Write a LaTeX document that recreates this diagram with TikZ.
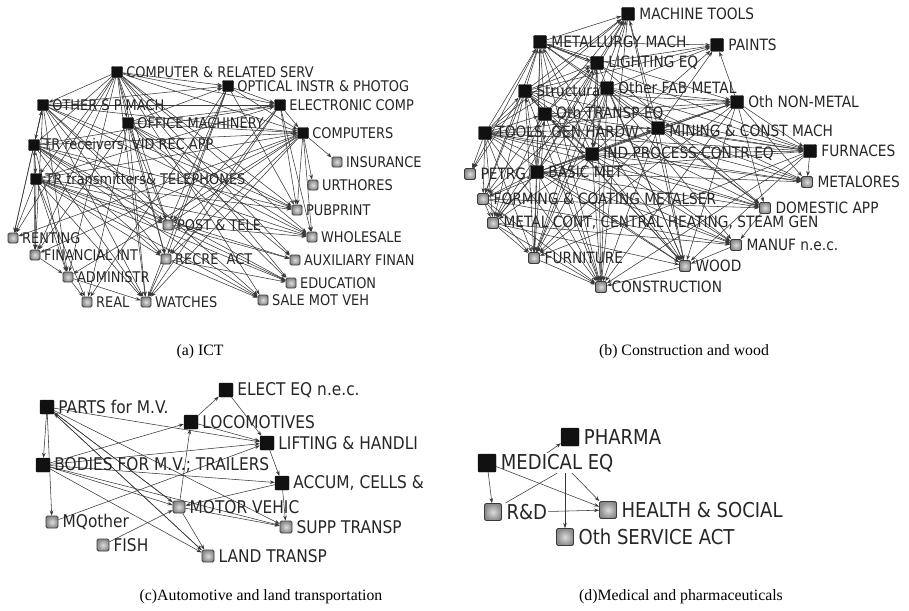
\documentclass[tikz,border=0pt]{standalone}
\usepackage{fontspec}
\setmainfont{Liberation Serif}
\newfontfamily\lblfont{DejaVu Sans}[FakeStretch=0.88]
\usepackage{tikz}
\usetikzlibrary{positioning, arrows.meta, backgrounds}

\definecolor{cEdge}    {HTML}{383838}
\definecolor{cSrc}     {HTML}{111111}
\definecolor{cSinkIn}  {HTML}{DCDCDC}
\definecolor{cSinkOut} {HTML}{8A8A8A}
\definecolor{cSinkLine}{HTML}{3A3A3A}

\tikzset{
  bnode/.style={rectangle, fill=cSrc, draw=cSrc, rounded corners=1pt,
    minimum size=\bsize, inner sep=0pt},
  gnode/.style={rectangle, inner color=cSinkIn, outer color=cSinkOut, draw=cSinkLine,
    line width=0.8pt, rounded corners=1.5pt, minimum size=\gsize, inner sep=0pt},
  lbl/.style={font=\lblfont\fontsize{\lblsize}{\lblsize}\selectfont, inner sep=1pt, text=black!85},
  edge/.style={draw=cEdge, line width=0.55pt, -{Stealth[length=5pt, width=3.6pt]}},
  plain/.style={draw=cEdge, line width=0.55pt},
  capt/.style={font=\fontsize{15.8pt}{17pt}\selectfont},
}

\begin{document}
\begin{tikzpicture}[x=1pt, y=-1pt]
\useasboundingbox (0,0) rectangle (909,610);

% (a) ICT
\begin{scope}[node distance=2.5pt]
  \def\bsize{11pt}\def\gsize{10pt}\def\lblsize{14.7pt}
  \node[bnode] (crs) at (117,72)  {}; \node[lbl, right=of crs] (crs-t) {COMPUTER \& RELATED SERV};
  \node[bnode] (opt) at (228,86)  {}; \node[lbl, right=of opt] (opt-t) {OPTICAL INSTR \& PHOTOG};
  \node[bnode] (osp) at (43,105)  {}; \node[lbl, right=of osp] (osp-t) {OTHER S P MACH};
  \node[bnode] (elc) at (280,105) {}; \node[lbl, right=of elc] (elc-t) {ELECTRONIC COMP};
  \node[bnode] (off) at (128,123) {}; \node[lbl, right=of off] (off-t) {OFFICE MACHINERY};
  \node[bnode] (cmp) at (303,133) {}; \node[lbl, right=of cmp] (cmp-t) {COMPUTERS};
  \node[bnode] (trr) at (34,145)  {}; \node[lbl, right=of trr] (trr-t) {TR receivers, VID REC APP};
  \node[bnode] (trt) at (36,179)  {}; \node[lbl, right=of trt] (trt-t) {TR transmitters\& TELEPHONES};
  \node[gnode] (ins) at (337,162) {}; \node[lbl, right=of ins] (ins-t) {INSURANCE};
  \node[gnode] (urt) at (313,185) {}; \node[lbl, right=of urt] (urt-t) {URTHORES};
  \node[gnode] (pub) at (297,210) {}; \node[lbl, right=of pub] (pub-t) {PUBPRINT};
  \node[gnode] (pos) at (168,225) {}; \node[lbl, right=of pos] (pos-t) {POST \& TELE};
  \node[gnode] (who) at (312,237) {}; \node[lbl, right=of who] (who-t) {WHOLESALE};
  \node[gnode] (ren) at (13,238)  {}; \node[lbl, right=of ren] (ren-t) {RENTING};
  \node[gnode] (fin) at (35,255)  {}; \node[lbl, right=of fin] (fin-t) {FINANCIAL INT};
  \node[gnode] (aux) at (295,260) {}; \node[lbl, right=of aux] (aux-t) {AUXILIARY FINAN};
  \node[gnode] (rec) at (166,259) {}; \node[lbl, right=of rec] (rec-t) {RECRE\ \ ACT};
  \node[gnode] (adm) at (68,277)  {}; \node[lbl, right=of adm] (adm-t) {ADMINISTR};
  \node[gnode] (edu) at (291,283) {}; \node[lbl, right=of edu] (edu-t) {EDUCATION};
  \node[gnode] (rea) at (87,302)  {}; \node[lbl, right=of rea] (rea-t) {REAL};
  \node[gnode] (wat) at (146,302) {}; \node[lbl, right=of wat] (wat-t) {WATCHES};
  \node[gnode] (sal) at (263,300) {}; \node[lbl, right=of sal] (sal-t) {SALE MOT VEH};
  \begin{scope}[on background layer]
    \foreach \src/\dst in {crs/opt, crs/elc, crs/cmp, crs/osp, crs/off, crs/trr, crs/trt,
        osp/opt, osp/elc, osp/cmp, osp/trr, off/opt, off/elc, off/cmp,
        trr/elc, trr/cmp, trr/osp, trr/trt, trt/cmp, trt/elc, trt/trr,
        opt/elc, opt/cmp, elc/cmp}
      \draw[edge] (\src) -- (\dst);
    \foreach \src in {crs, osp, off, trr, trt}
      \foreach \dst in {pos, rec, wat, pub}
        \draw[edge] (\src) -- (\dst);
    \foreach \src/\dst in {crs/who, crs/edu, crs/aux, crs/sal, crs/fin, crs/ren, crs/adm,
        osp/who, osp/fin, osp/ren, osp/sal, osp/adm,
        off/who, off/edu, off/aux, off/fin, off/rea,
        trr/who, trr/edu, trr/fin, trr/ren, trr/adm, trr/sal,
        trt/ren, trt/fin, trt/adm, trt/who, trt/edu, trt/aux, trt/rea, trt/sal,
        cmp/ins, cmp/urt, cmp/pub, cmp/who, cmp/pos, cmp/rec, cmp/wat, cmp/fin, cmp/ren, cmp/adm,
        elc/pub, elc/who, elc/pos, elc/rec, elc/wat,
        opt/pub, opt/pos, opt/wat, opt/rec, opt/rea,
        pos/aux, pos/edu, rec/sal, rec/wat, fin/adm, adm/rea, pos/who, rec/edu, adm/wat}
      \draw[edge] (\src) -- (\dst);
  \end{scope}
\end{scope}

% (b) Construction and wood
\begin{scope}[node distance=3.5pt]
  \def\bsize{13pt}\def\gsize{11pt}\def\lblsize{15.6pt}
  \node[bnode] (mct) at (628,14)  {}; \node[lbl, right=of mct] (mct-t) {MACHINE TOOLS};
  \node[bnode] (mtm) at (540,42)  {}; \node[lbl, right=of mtm] (mtm-t) {METALLURGY MACH};
  \node[bnode] (pnt) at (717,45)  {}; \node[lbl, right=of pnt] (pnt-t) {PAINTS};
  \node[bnode] (lgt) at (597,63)  {}; \node[lbl, right=of lgt] (lgt-t) {LIGHTING EQ};
  \node[bnode] (str) at (525,91)  {}; \node[lbl, right=of str] (str-t) {Structura};
  \node[bnode] (ofm) at (607,88)  {}; \node[lbl, right=of ofm] (ofm-t) {Other FAB METAL};
  \node[bnode] (onm) at (737,102) {}; \node[lbl, right=of onm] (onm-t) {Oth NON-METAL};
  \node[bnode] (otr) at (545,114) {}; \node[lbl, right=of otr] (otr-t) {Oth TRANSP EQ};
  \node[bnode] (min) at (658,128) {}; \node[lbl, right=of min, yshift=-3pt] (min-t) {MINING \& CONST MACH};
  \node[bnode] (tls) at (485,133) {}; \node[lbl, right=of tls] (tls-t) {TOOLS, GEN HARDW};
  \node[bnode] (ipc) at (592,154) {}; \node[lbl, right=of ipc] (ipc-t) {IND PROCESS CONTR EQ};
  \node[bnode] (fur) at (810,151) {}; \node[lbl, right=of fur] (fur-t) {FURNACES};
  \node[bnode] (bsm) at (537,172) {}; \node[lbl, right=of bsm] (bsm-t) {BASIC MET};
  \node[gnode] (ptr) at (470,174) {}; \node[lbl, right=of ptr] (ptr-t) {PETRG.};
  \node[gnode] (mor) at (807,182) {}; \node[lbl, right=of mor] (mor-t) {METALORES};
  \node[gnode] (frm) at (483,199) {}; \node[lbl, right=of frm] (frm-t) {FORMING \& COATING METALSER};
  \node[gnode] (dom) at (765,208) {}; \node[lbl, right=of dom] (dom-t) {DOMESTIC APP};
  \node[gnode] (mcn) at (493,223) {}; \node[lbl, right=of mcn] (mcn-t) {METAL CONT, CENTRAL HEATING, STEAM GEN};
  \node[gnode] (mnf) at (736,245) {}; \node[lbl, right=of mnf] (mnf-t) {MANUF n.e.c.};
  \node[gnode] (fnt) at (534,258) {}; \node[lbl, right=of fnt] (fnt-t) {FURNITURE};
  \node[gnode] (wod) at (685,266) {}; \node[lbl, right=of wod] (wod-t) {WOOD};
  \node[gnode] (con) at (601,287) {}; \node[lbl, right=of con] (con-t) {CONSTRUCTION};
  \begin{scope}[on background layer]
    \foreach \src/\dst in {mtm/mct, lgt/mct, str/mct, otr/mct, tls/mct, min/mct, ipc/mct, bsm/mct,
        str/mtm, otr/mtm, tls/mtm, bsm/mtm, ipc/mtm, lgt/mtm, ofm/mtm,
        str/lgt, otr/lgt, tls/lgt, bsm/lgt, ipc/lgt, mtm/lgt,
        lgt/pnt, ofm/pnt, min/pnt, ipc/pnt, mtm/pnt, str/pnt, onm/pnt,
        tls/str, otr/str, bsm/str, tls/otr, bsm/otr, ipc/otr,
        ipc/min, bsm/min, tls/min, onm/min,
        str/onm, ofm/onm, ipc/onm, otr/onm, mtm/onm, tls/onm, bsm/onm,
        tls/fur, ipc/fur, bsm/fur, ofm/fur, onm/fur, min/fur, mtm/fur, otr/fur, str/fur,
        ofm/ipc, tls/ipc, bsm/ipc, str/ipc, lgt/ipc}
      \draw[edge] (\src) -- (\dst);
    \foreach \src in {mct, mtm, lgt, str, ofm, otr, tls, min, ipc, bsm, onm, fur}
      \foreach \dst in {fnt, con, wod}
        \draw[edge] (\src) -- (\dst);
    \foreach \src/\dst in {fur/mor, ipc/mor, bsm/mor, onm/mor, min/mor, tls/mor, ofm/mor, otr/mor,
        ipc/dom, bsm/dom, ofm/dom, tls/dom, lgt/dom, mtm/dom, str/dom, frm/dom, onm/dom,
        tls/frm, bsm/frm, str/frm, otr/frm, mtm/frm, ipc/frm, ofm/frm,
        tls/mcn, bsm/mcn, str/mcn, ofm/mcn, ipc/mcn, otr/mcn, frm/mcn, lgt/mcn,
        ipc/mnf, ofm/mnf, tls/mnf, bsm/mnf, mcn/mnf, frm/mnf, str/mnf,
        tls/ptr, mtm/ptr, str/ptr,
        mcn/fnt, frm/fnt, mcn/con, fnt/con, wod/con, mnf/wod, frm/con, mcn/wod, dom/mnf}
      \draw[edge] (\src) -- (\dst);
  \end{scope}
\end{scope}

% (c) Automotive and land transportation
\begin{scope}[node distance=3pt]
  \def\bsize{14pt}\def\gsize{12pt}\def\lblsize{17.5pt}
  \node[bnode] (prt) at (47,407)  {}; \node[lbl, right=of prt] (prt-t) {PARTS for M.V.};
  \node[bnode] (ele) at (226,390) {}; \node[lbl, right=of ele] (ele-t) {ELECT EQ n.e.c.};
  \node[bnode] (loc) at (191,422) {}; \node[lbl, right=of loc] (loc-t) {LOCOMOTIVES};
  \node[bnode] (lif) at (267,443) {}; \node[lbl, right=of lif] (lif-t) {LIFTING \& HANDLI};
  \node[bnode] (bod) at (43,465)  {}; \node[lbl, right=of bod] (bod-t) {BODIES FOR M.V.; TRAILERS};
  \node[bnode] (acc) at (282,483) {}; \node[lbl, right=of acc] (acc-t) {ACCUM, CELLS \&};
  \node[gnode] (mot) at (179,507) {}; \node[lbl, right=of mot] (mot-t) {MOTOR VEHIC};
  \node[gnode] (mqo) at (52,522)  {}; \node[lbl, right=of mqo] (mqo-t) {MQother};
  \node[gnode] (sup) at (286,527) {}; \node[lbl, right=of sup] (sup-t) {SUPP TRANSP};
  \node[gnode] (fsh) at (103,545) {}; \node[lbl, right=of fsh] (fsh-t) {FISH};
  \node[gnode] (lnd) at (208,556) {}; \node[lbl, right=of lnd] (lnd-t) {LAND TRANSP};
  \begin{scope}[on background layer]
    \foreach \src/\dst in {prt/bod, prt/mqo, prt/lif, prt/mot, prt/lnd, prt/sup,
        bod/mot, bod/lnd, bod/acc, bod/lif, bod/loc, bod/sup,
        loc/ele, lif/acc, mot/sup, mot/lnd, mot/loc, mqo/lif, fsh/mot,
        acc/sup, ele/lif, lnd/prt, mot/prt, loc/lif, acc/mot}
      \draw[edge] (\src) -- (\dst);
  \end{scope}
\end{scope}

% (d) Medical and pharmaceuticals
\begin{scope}[node distance=3.5pt]
  \def\bsize{18pt}\def\gsize{17pt}\def\lblsize{20.5pt}
  \node[bnode] (phr) at (570,437) {}; \node[lbl, right=of phr] (phr-t) {PHARMA};
  \node[bnode] (med) at (487,463) {}; \node[lbl, right=of med] (med-t) {MEDICAL EQ};
  \node[gnode] (rnd) at (493,512) {}; \node[lbl, right=of rnd] (rnd-t) {R\&D};
  \node[gnode] (hlt) at (608,510) {}; \node[lbl, right=of hlt] (hlt-t) {HEALTH \& SOCIAL};
  \node[gnode] (oth) at (565,537) {}; \node[lbl, right=of oth] (oth-t) {Oth SERVICE ACT};
  \begin{scope}[on background layer]
    \draw[edge] ([xshift=-10pt]med-t.north) -- (phr);
    \draw[edge] (med) -- (rnd);
    \draw[edge] (med) -- (hlt);
    \draw[edge] ([xshift=15pt]med-t.south) -- (hlt);
    \draw[edge] (med-t.south -| oth) -- (oth);
    \draw[edge] (rnd-t) -- (hlt);
    \draw[plain] (rnd-t.north west) -- (med-t.south);
  \end{scope}
\end{scope}

% captions
\node[capt] (cap-a) at (200,352) {(a) ICT};
\node[capt] (cap-b) at (684,352) {(b) Construction and wood};
\node[capt] (cap-c) at (261,597) {(c)Automotive and land transportation};
\node[capt] (cap-d) at (681,597) {(d)Medical and pharmaceuticals};
\end{tikzpicture}
\end{document}
